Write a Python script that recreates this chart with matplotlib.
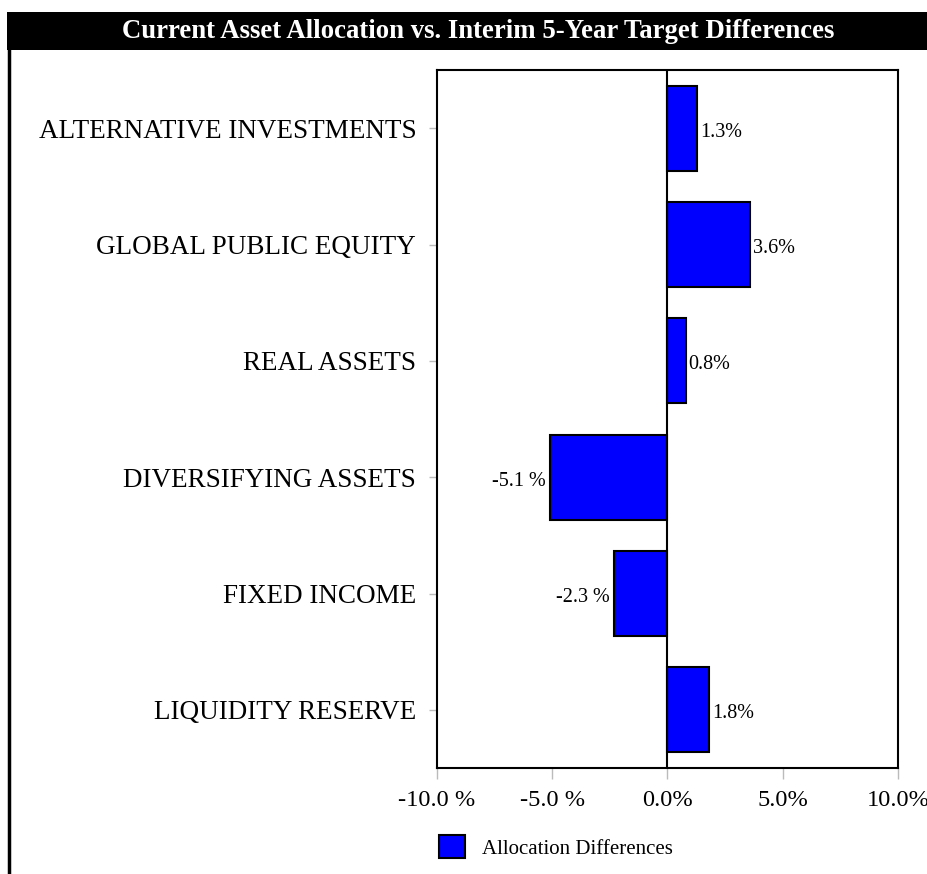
import matplotlib
matplotlib.use('Agg')
import matplotlib.pyplot as plt
from matplotlib.patches import Rectangle
from matplotlib.lines import Line2D

plt.rcParams['font.family'] = ['Liberation Serif', 'DejaVu Serif']

categories = ['ALTERNATIVE INVESTMENTS', 'GLOBAL PUBLIC EQUITY', 'REAL ASSETS',
              'DIVERSIFYING ASSETS', 'FIXED INCOME', 'LIQUIDITY RESERVE']
differences = [1.3, 3.6, 0.8, -5.1, -2.3, 1.8]
xticks = [-10, -5, 0, 5, 10]
xtick_labels = ['-10.0 %', '-5.0 %', '0.0%', '5.0%', '10.0%']

fig = plt.figure(figsize=(9.28, 8.74), dpi=100)
W, H = 928, 874

# title bar and left rule
fig.patches.append(Rectangle((7 / W, 1 - 50 / H), 1 - 7 / W, 38 / H, transform=fig.transFigure,
                             facecolor='black', edgecolor='none', zorder=0))
fig.lines.append(Line2D([9 / W, 9 / W], [0, 1 - 50 / H], transform=fig.transFigure,
                        color='black', linewidth=2.5))
fig.text(478 / W, 1 - 32 / H, 'Current Asset Allocation vs. Interim 5-Year Target Differences',
         color='white', fontsize=19.3, fontweight='bold', ha='center', va='center')

ax = fig.add_axes([437 / W, 1 - 768 / H, (898 - 437) / W, (768 - 70) / H])
ypos = list(range(len(categories)))
bars = ax.barh(ypos, differences, height=0.73, color='#0000ff', edgecolor='black',
               linewidth=1.5, label='Allocation Differences', zorder=3)
ax.axvline(0, color='black', linewidth=1.5, zorder=4)

for y, v in zip(ypos, differences):
    if v >= 0:
        ax.text(v + 0.12, y + 0.035, f'{v:.1f}%', va='center', ha='left', fontsize=14.5)
    else:
        ax.text(v - 0.2, y + 0.035, f'{v:.1f} %', va='center', ha='right', fontsize=14.5)

ax.set_xlim(-10, 10)
ax.set_ylim(len(categories) - 0.5, -0.5)
ax.set_yticks(ypos)
ax.set_yticklabels(categories, fontsize=19.5)
ax.set_xticks(xticks)
ax.set_xticklabels(xtick_labels, fontsize=17.6)
ax.tick_params(axis='y', length=6, width=1, color='#bbbbbb', pad=9, direction='out')
ax.tick_params(axis='x', length=8, width=1, color='#bbbbbb', pad=8, direction='out')
for t in ax.yaxis.get_major_ticks() + ax.xaxis.get_major_ticks():
    t.tick1line.set_linestyle((0, (1, 1)))
for s in ax.spines.values():
    s.set_linewidth(1.5)

ax.legend(loc='upper left', bbox_to_anchor=(-0.036, -0.069), frameon=False, fontsize=15,
          handlelength=1.25, handleheight=1.35, handletextpad=0.8)

plt.savefig('out.png', dpi=100)
